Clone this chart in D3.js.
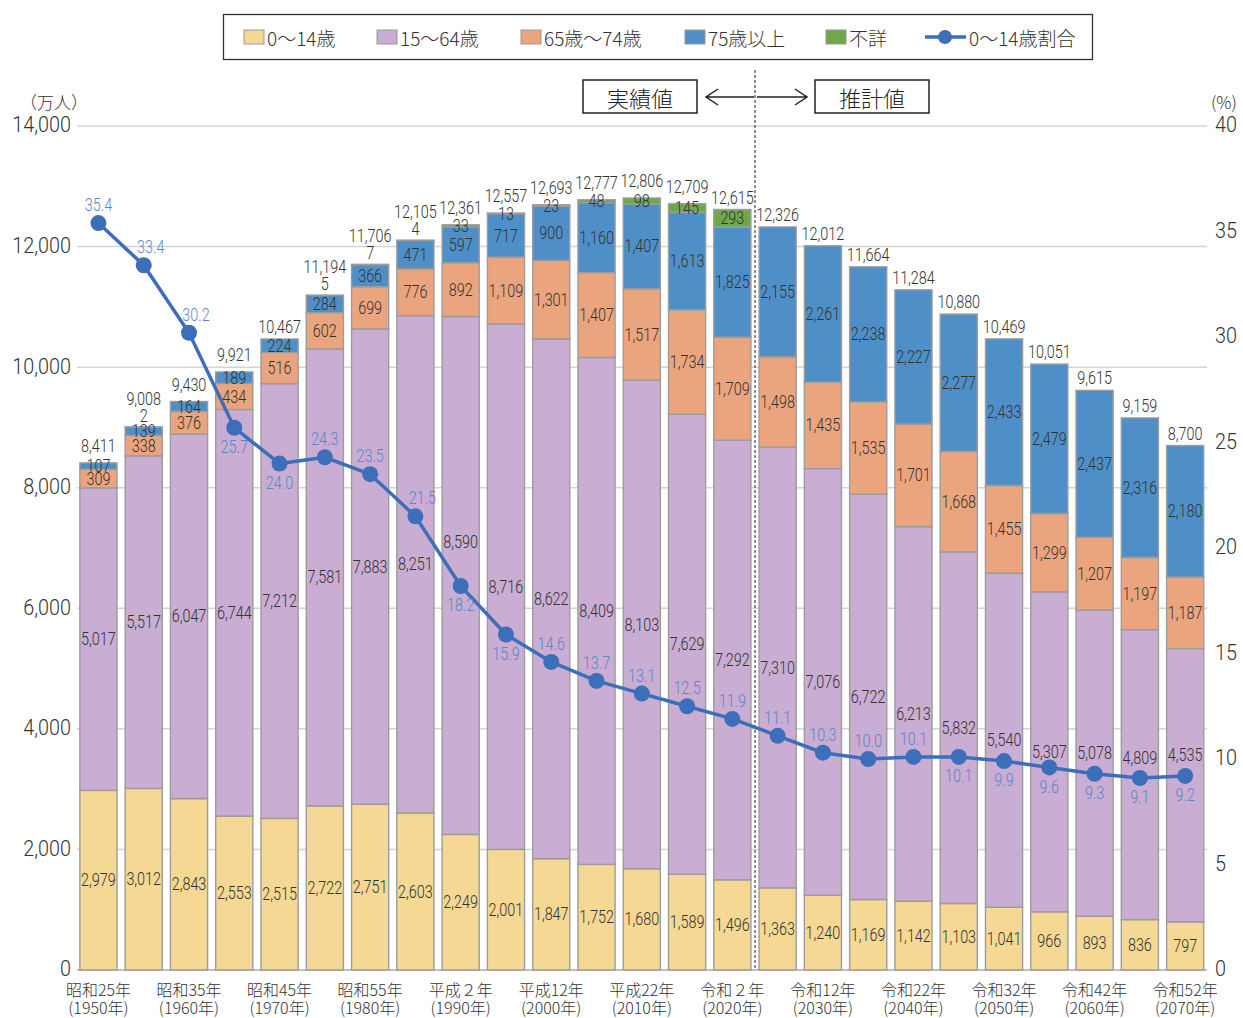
<!DOCTYPE html>
<html>
<head>
<meta charset="utf-8">
<script src="https://cdn.jsdelivr.net/npm/d3@7"></script>
<style>
body { margin: 0; background: #fff; }
text { font-family: Roboto, "Noto Sans", sans-serif; font-weight: 300; }
.jp { font-family: "Noto Sans CJK JP", sans-serif; font-weight: 300; }
</style>
</head>
<body>
<div id="chart"></div>
<script>
var W = 1243, H = 1018;

// data
var years = [1950,1955,1960,1965,1970,1975,1980,1985,1990,1995,2000,2005,2010,2015,2020,2025,2030,2035,2040,2045,2050,2055,2060,2065,2070];
var age0_14 = [2979,3012,2843,2553,2515,2722,2751,2603,2249,2001,1847,1752,1680,1589,1496,1363,1240,1169,1142,1103,1041,966,893,836,797];
var age15_64 = [5017,5517,6047,6744,7212,7581,7883,8251,8590,8716,8622,8409,8103,7629,7292,7310,7076,6722,6213,5832,5540,5307,5078,4809,4535];
var age65_74 = [309,338,376,434,516,602,699,776,892,1109,1301,1407,1517,1734,1709,1498,1435,1535,1701,1668,1455,1299,1207,1197,1187];
var age75 = [107,139,164,189,224,284,366,471,597,717,900,1160,1407,1613,1825,2155,2261,2238,2227,2277,2433,2479,2437,2316,2180];
var unknown = [0,2,0,0,0,5,7,4,33,13,23,48,98,145,293,0,0,0,0,0,0,0,0,0,0];
var totals = [8411,9008,9430,9921,10467,11194,11706,12105,12361,12557,12693,12777,12806,12709,12615,12326,12012,11664,11284,10880,10469,10051,9615,9159,8700];
var ratio = [35.4,33.4,30.2,25.7,24.0,24.3,23.5,21.5,18.2,15.9,14.6,13.7,13.1,12.5,11.9,11.1,10.3,10.0,10.1,10.1,9.9,9.6,9.3,9.1,9.2];
// where each ratio label sits: a = above, r = above right, b = below
var ratioPos = ["a","r","r","b","b","a","a","r","b","b","a","a","a","a","a","a","a","a","a","b","b","b","b","b","b"];
var eraLabels = ["昭和25年","昭和35年","昭和45年","昭和55年","平成２年","平成12年","平成22年","令和２年","令和12年","令和22年","令和32年","令和42年","令和52年"];
var leftTicks = [0,2000,4000,6000,8000,10000,12000,14000];
var rightTicks = [0,5,10,15,20,25,30,35,40];

var seriesKeys = ["a0","a15","a65","a75","unk"];
var seriesNames = ["0～14歳","15～64歳","65歳～74歳","75歳以上","不詳"];
var colors = ["#F5D894","#C9ADD2","#EBA57E","#4F8FC8","#6FA84B"];
var lineColor = "#3D6EBA", ratioTextColor = "#5A86CE";

var rows = years.map(function(y, i) {
	return { year: y, a0: age0_14[i], a15: age15_64[i], a65: age65_74[i], a75: age75[i], unk: unknown[i], total: totals[i], ratio: ratio[i] };
});

var svg = d3.select("#chart").append("svg")
	.attr("width", W)
	.attr("height", H);

var x = d3.scaleBand().domain(years).range([75.8, 1207.8]).paddingInner(0.18).paddingOuter(0.09);
var y = d3.scaleLinear().domain([0, 14000]).range([970, 126]);
var y2 = d3.scaleLinear().domain([0, 40]).range([970, 126]);
var fmt = d3.format(",");

// condensed number label
function numText(g, cx, cy, str, size, color, anchor, sx) {
	return g.append("text")
		.attr("transform", "translate(" + cx + "," + cy + ") scale(" + (sx || 0.8) + ",1)")
		.attr("text-anchor", anchor || "middle")
		.attr("dominant-baseline", "central")
		.attr("font-size", size + "px")
		.attr("fill", color)
		.text(str);
}

// grid
svg.append("g").selectAll("line").data(leftTicks).join("line")
	.attr("x1", 77).attr("x2", 1207)
	.attr("y1", function(d) { return y(d); }).attr("y2", function(d) { return y(d); })
	.attr("stroke", function(d) { return d === 0 ? "#a9a9a9" : "#d4d4d4"; })
	.attr("stroke-width", 1.5);

// axis labels
var axL = svg.append("g");
leftTicks.forEach(function(d) { numText(axL, 71, y(d) - 1, fmt(d), 22, "#333", "end", 0.9); });
var axR = svg.append("g");
rightTicks.forEach(function(d) { numText(axR, 1215, y2(d) - 1, d, 22, "#333", "start", 0.9); });

svg.append("text").attr("class", "jp").attr("x", 20).attr("y", 109)
	.attr("font-size", "17px").attr("fill", "#333").text("（万人）");
svg.append("text").attr("class", "jp").attr("x", 1211).attr("y", 109)
	.attr("font-size", "17px").attr("fill", "#333").text("(%)");

// bars
var stack = d3.stack().keys(seriesKeys)(rows);

var layers = svg.append("g").selectAll("g").data(stack).join("g")
	.attr("fill", function(d, i) { return colors[i]; });

layers.selectAll("rect").data(function(d) { return d; }).join("rect")
	.attr("x", function(d) { return x(d.data.year); })
	.attr("width", x.bandwidth())
	.attr("y", function(d) { return y(d[1]); })
	.attr("height", function(d) { return Math.max(0, y(d[0]) - y(d[1])); })
	.attr("stroke", "#9c9c9c")
	.attr("stroke-width", 1.4)
	.attr("display", function(d) { return d[1] - d[0] > 0 ? null : "none"; });

// segment labels (a few 15-64 labels nudged up to clear the ratio labels)
var nudge15 = { 1990: -34, 2060: -10, 2065: -17, 2070: -30 };
var segLabels = svg.append("g");
stack.forEach(function(layer, li) {
	layer.forEach(function(d) {
		var v = d[1] - d[0];
		if (v <= 0) return;
		var cx = x(d.data.year) + x.bandwidth() / 2;
		var cy = (y(d[0]) + y(d[1])) / 2;
		if (li === 1 && nudge15[d.data.year]) cy += nudge15[d.data.year];
		if (li === 4 && v < 10) cy = y(d[1]) - 11;
		numText(segLabels, cx, cy, fmt(v), 18, "#333");
	});
});

// total labels
var totLabels = svg.append("g");
rows.forEach(function(d) {
	var top = y(d.total);
	var cy = top - 12;
	var topSeg = d.unk > 0 ? d.unk : d.a75;
	if (d.unk > 0 && d.unk < 10) cy = top - 28;
	else if (y(0) - y(topSeg) < 12) cy = top - 17;
	numText(totLabels, x(d.year) + x.bandwidth() / 2, cy, fmt(d.total), 18, "#333");
});

// divider between actual and projected
var divX = (x(2020) + x.bandwidth() + x(2025)) / 2;
svg.append("line")
	.attr("x1", divX).attr("x2", divX).attr("y1", 70).attr("y2", 970)
	.attr("stroke", "#555").attr("stroke-width", 1.3).attr("stroke-dasharray", "3,2");

function boxLabel(cx, label) {
	svg.append("rect").attr("x", cx - 57).attr("y", 80).attr("width", 114).attr("height", 33)
		.attr("fill", "#fff").attr("stroke", "#222").attr("stroke-width", 1.5);
	svg.append("text").attr("class", "jp").attr("x", cx).attr("y", 97)
		.attr("text-anchor", "middle").attr("dominant-baseline", "central")
		.attr("font-size", "22px").attr("font-weight", 400).attr("fill", "#222").text(label);
}
boxLabel(640, "実績値");
boxLabel(872, "推計値");

var arrows = svg.append("g").attr("stroke", "#222").attr("stroke-width", 1.5).attr("fill", "none");
arrows.append("path").attr("d", "M" + (divX - 1) + ",97H706M718,89L706,97L718,105");
arrows.append("path").attr("d", "M" + (divX + 2) + ",97H807M795,89L807,97L795,105");

// ratio line
var line = d3.line()
	.x(function(d) { return x(d.year) + x.bandwidth() / 2; })
	.y(function(d) { return y2(d.ratio); });

svg.append("path").datum(rows)
	.attr("d", line)
	.attr("fill", "none").attr("stroke", lineColor).attr("stroke-width", 3.5);

svg.append("g").selectAll("circle").data(rows).join("circle")
	.attr("cx", function(d) { return x(d.year) + x.bandwidth() / 2; })
	.attr("cy", function(d) { return y2(d.ratio); })
	.attr("r", 8).attr("fill", lineColor);

var ratioLabels = svg.append("g");
rows.forEach(function(d, i) {
	var cx = x(d.year) + x.bandwidth() / 2 + (ratioPos[i] === "r" ? 7 : 0);
	var cy = y2(d.ratio) + (ratioPos[i] === "b" ? 19 : -18);
	numText(ratioLabels, cx, cy, d.ratio.toFixed(1), 18, ratioTextColor);
});

// x axis labels
var labelYears = years.filter(function(d, i) { return i % 2 === 0; });
var xl = svg.append("g").selectAll("g").data(labelYears).join("g")
	.attr("transform", function(d) { return "translate(" + (x(d) + x.bandwidth() / 2) + ",0)"; });
xl.append("text").attr("class", "jp").attr("y", 989)
	.attr("text-anchor", "middle").attr("dominant-baseline", "central")
	.attr("font-size", "16px").attr("fill", "#333")
	.text(function(d, i) { return eraLabels[i]; });
xl.append("text").attr("class", "jp").attr("y", 1007)
	.attr("text-anchor", "middle").attr("dominant-baseline", "central")
	.attr("font-size", "16px").attr("fill", "#333")
	.text(function(d) { return "(" + d + "年)"; });

// legend
var legend = svg.append("g");
legend.append("rect").attr("x", 223.5).attr("y", 14.5).attr("width", 869).attr("height", 45)
	.attr("fill", "#fff").attr("stroke", "#333").attr("stroke-width", 1.3);
var legX = [244, 377, 521, 685, 826];
seriesNames.forEach(function(name, i) {
	legend.append("rect").attr("x", legX[i]).attr("y", 30).attr("width", 20).attr("height", 14)
		.attr("fill", colors[i]).attr("stroke", "#999").attr("stroke-width", 1);
	legend.append("text").attr("class", "jp").attr("x", legX[i] + 23).attr("y", 37)
		.attr("dominant-baseline", "central").attr("font-size", "19px").attr("fill", "#333")
		.text(name);
});
legend.append("line").attr("x1", 925).attr("x2", 966).attr("y1", 37).attr("y2", 37)
	.attr("stroke", lineColor).attr("stroke-width", 3.5);
legend.append("circle").attr("cx", 945).attr("cy", 37).attr("r", 7).attr("fill", lineColor);
legend.append("text").attr("class", "jp").attr("x", 969).attr("y", 37)
	.attr("dominant-baseline", "central").attr("font-size", "19px").attr("fill", "#333")
	.text("0～14歳割合");
</script>
</body>
</html>
